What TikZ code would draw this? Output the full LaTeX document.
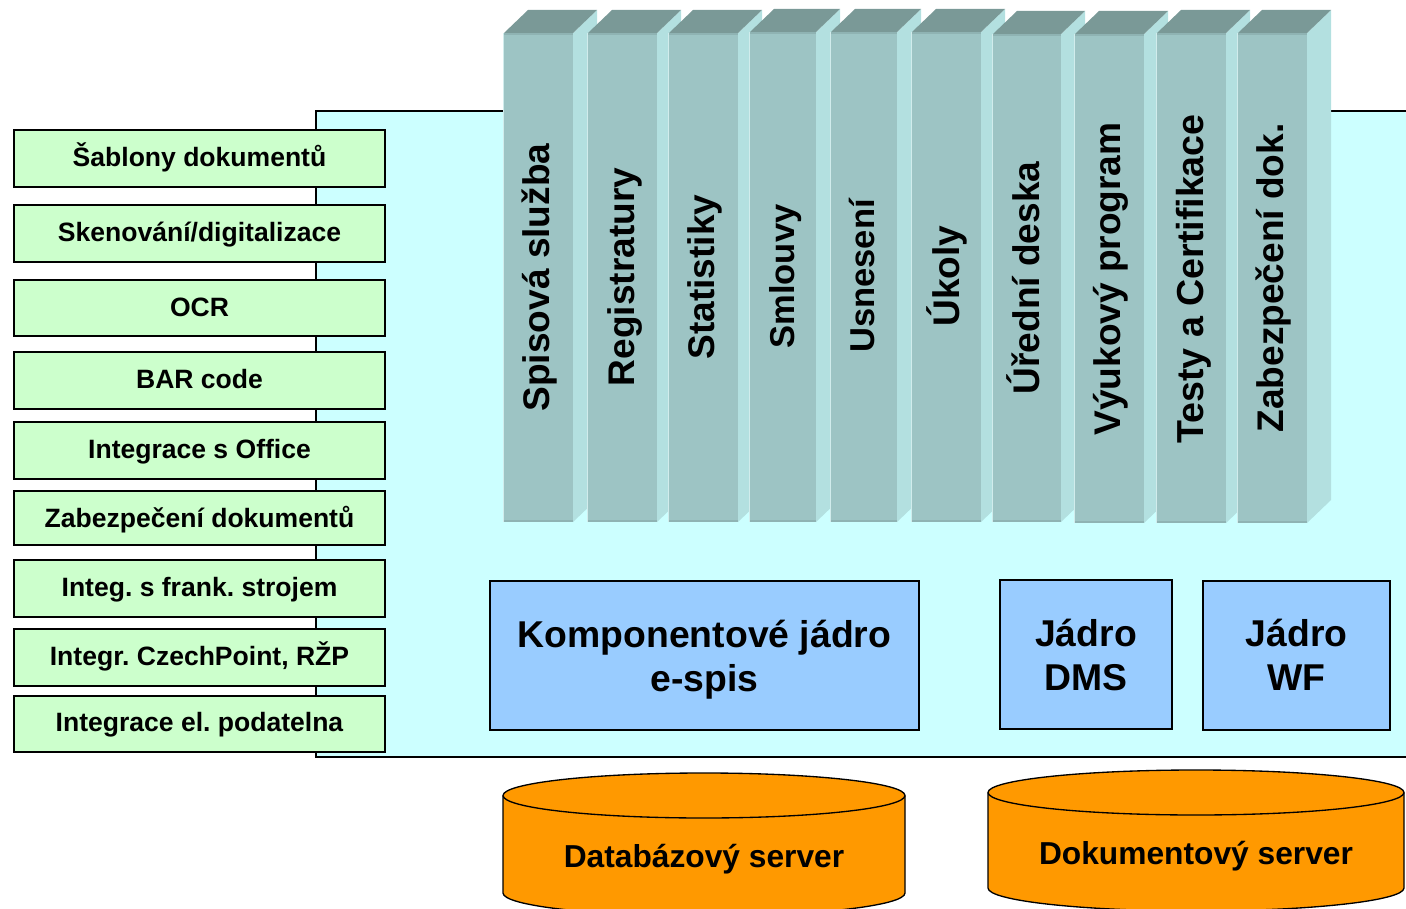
\documentclass[tikz,border=0pt]{standalone}
\usepackage{fontspec}
\setmainfont{Liberation Sans}
\frenchspacing
\definecolor{panel}{HTML}{CCFFFF}
\definecolor{greenbox}{HTML}{CCFFCC}
\definecolor{bluebox}{HTML}{99CCFF}
\definecolor{orangedb}{HTML}{FF9900}
\definecolor{barfront}{HTML}{9DC4C4}
\definecolor{barside}{HTML}{B3E0E0}
\definecolor{bartop}{HTML}{7A9997}
\definecolor{baredge}{HTML}{8FB3B3}
\tikzset{
  x=0.75pt,y=-0.75pt,
  every node/.style={inner sep=0pt,outer sep=0pt,font=\bfseries,align=center,text=black},
  greenlabel/.style={font=\fontsize{19.9pt}{23pt}\selectfont\frenchspacing\bfseries},
  greenrect/.style={draw=black,line width=1.4pt,fill=greenbox},
  bluerect/.style={draw=black,line width=1.4pt,fill=bluebox},
  bluelabel/.style={font=\fontsize{28pt}{33pt}\bfseries},
  barlabel/.style={rotate=90,font=\fontsize{27.8pt}{32pt}\bfseries},
  barlabelsmall/.style={rotate=90,font=\fontsize{25.9pt}{32pt}\bfseries},
  dblabel/.style={font=\fontsize{23.8pt}{28pt}\bfseries},
}
\newcommand{\gbox}[7]{% name x0 y0 x1 y1 text yshift
  \path[greenrect] (#2,#3) rectangle (#4,#5);
  \node[greenlabel] (#1) at ({(#2+#4)/2},{(#3+#5)/2+1.5+#7}) {\strut #6};
}
\newcommand{\pillar}[5]{% name x0 x1 ytop ybot
  \fill[barside] (#3,#4) -- (#3+24,#4-23) -- (#3+24,#5-23) -- (#3,#5) -- cycle;
  \fill[bartop] (#2,#4) -- (#2+24,#4-23) -- (#3+24,#4-23) -- (#3,#4) -- cycle;
  \fill[barside!60!white] (#2-1.5,#4) rectangle (#2,#5);
  \fill[barfront] (#2,#4) rectangle (#3,#5);
  \fill[baredge] (#2,#4) rectangle (#3,#4+2);
  \fill[baredge] (#2,#5-2) rectangle (#3,#5);
  \coordinate (#1) at (#2,#5);
}
\begin{document}
\begin{tikzpicture}
\useasboundingbox (0,0) rectangle (1406,909);
\clip (0,0) rectangle (1406,909);
\fill[panel] (316,111) rectangle (1406,757);
\draw[black,line width=1.5pt] (1406,111) -- (316,111) -- (316,757) -- (1406,757);

\gbox{g1}{14}{130}{385}{187}{Šablony dokumentů}{-1}
\gbox{g2}{14}{205}{385}{262}{Skenování/digitalizace}{0}
\gbox{g3}{14}{280}{385}{336}{OCR}{1}
\gbox{g4}{14}{352}{385}{409}{BAR code}{0}
\gbox{g5}{14}{422}{385}{479}{Integrace s Office}{0}
\gbox{g6}{14}{491}{385}{545}{Zabezpečení dokumentů}{2}
\gbox{g7}{14}{560}{385}{617}{Integ. s frank. strojem}{0}
\gbox{g8}{14}{629}{385}{686}{Integr. CzechPoint, RŽP}{-1}
\gbox{g9}{14}{696}{385}{752}{Integrace el. podatelna}{0}

\pillar{p1}{504}{573}{33}{522}
\pillar{p2}{588}{657}{33}{522}
\pillar{p3}{669}{738}{33}{522}
\pillar{p4}{750}{816}{32}{522}
\pillar{p5}{831}{897}{32}{522}
\pillar{p6}{912}{981}{32}{522}
\pillar{p7}{993}{1061}{34}{522}
\pillar{p8}{1075}{1144}{34}{523}
\pillar{p9}{1157}{1226}{33}{523}
\pillar{p10}{1238}{1307}{33}{523}

\node[barlabel] (t1) at (541,277.5) {\strut Spisová služba};
\node[barlabel] (t2) at (625.5,277) {\strut Registratury};
\node[barlabel] (t3) at (706,277) {\strut Statistiky};
\node[barlabelsmall] (t4) at (786,276.5) {\strut Smlouvy};
\node[barlabelsmall] (t5) at (866,276) {\strut Usnesení};
\node[barlabel] (t6) at (949.5,276) {\strut Úkoly};
\node[barlabel] (t7) at (1029,278) {\strut Úřední deska};
\node[barlabel] (t8) at (1112,279) {\strut Výukový program};
\node[barlabel,font=\fontsize{28.2pt}{32pt}\bfseries] (t9) at (1195,279) {\strut Testy a Certifikace};
\node[barlabel] (t10) at (1275,278) {\strut Zabezpečení dok.};

\path[bluerect] (490,581) rectangle (919,730);
\node[bluelabel] (b1) at (704.5,659.5) {Komponentové jádro\\e-spis};
\path[bluerect] (1000,580) rectangle (1172,729);
\node[bluelabel] (b2) at (1086,655) {Jádro\\DMS};
\path[bluerect] (1203,581) rectangle (1390,730);
\node[bluelabel] (b3) at (1296.5,655) {Jádro\\WF};

\path[draw=black,line width=1pt,fill=orangedb] (503,795.5) -- (503,893) arc[start angle=180,end angle=360,x radius=201,y radius=-23] -- (905,795.5) arc[start angle=0,end angle=180,x radius=201,y radius=-22.5] -- cycle;
\draw[black,line width=1pt] (503,795.5) arc[start angle=180,end angle=360,x radius=201,y radius=-22.5];
\node[dblabel] (d1) at (704,859) {Databázový server};

\path[draw=black,line width=1pt,fill=orangedb] (988,792.5) -- (988,888) arc[start angle=180,end angle=360,x radius=208,y radius=-23] -- (1404,792.5) arc[start angle=0,end angle=180,x radius=208,y radius=-22.5] -- cycle;
\draw[black,line width=1pt] (988,792.5) arc[start angle=180,end angle=360,x radius=208,y radius=-22.5];
\node[dblabel] (d2) at (1196,856) {Dokumentový server};
\end{tikzpicture}
\end{document}
